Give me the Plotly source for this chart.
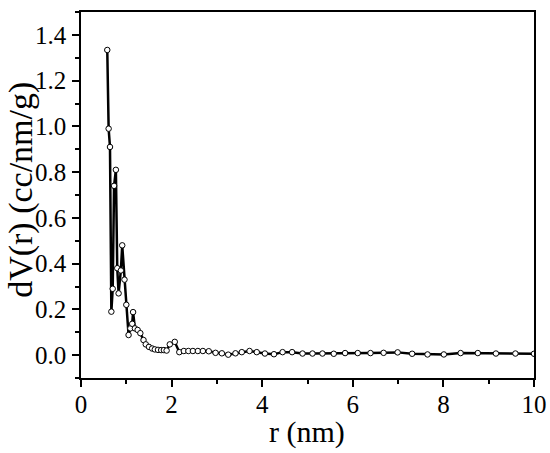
import plotly.graph_objects as go

# pore radius (nm) and dV(r) (cc/nm/g)
r_nm = [0.58, 0.61, 0.64, 0.67, 0.70, 0.73, 0.77, 0.80, 0.83, 0.88,
        0.91, 0.96, 1.00, 1.05, 1.09, 1.13, 1.15, 1.19, 1.25, 1.31,
        1.38, 1.43, 1.50, 1.57, 1.63, 1.70, 1.77, 1.83, 1.89, 1.96,
        2.07, 2.17, 2.27, 2.37, 2.47, 2.58, 2.69, 2.82, 2.97, 3.11,
        3.25, 3.41, 3.55, 3.72, 3.88, 4.06, 4.26, 4.45, 4.66, 4.89,
        5.11, 5.33, 5.58, 5.83, 6.11, 6.39, 6.68, 6.99, 7.31, 7.65,
        8.01, 8.38, 8.76, 9.16, 9.59, 10.0]
dv = [1.334, 0.99, 0.91, 0.19, 0.29, 0.74, 0.81, 0.38, 0.27, 0.37,
      0.48, 0.33, 0.22, 0.088, 0.117, 0.137, 0.188, 0.117, 0.11, 0.096,
      0.066, 0.047, 0.036, 0.029, 0.025, 0.023, 0.022, 0.022, 0.020, 0.047,
      0.058, 0.013, 0.018, 0.018, 0.018, 0.018, 0.018, 0.017, 0.010, 0.008,
      0.002, 0.008, 0.013, 0.018, 0.013, 0.007, 0.004, 0.013, 0.013, 0.007,
      0.007, 0.007, 0.006, 0.009, 0.009, 0.009, 0.010, 0.012, 0.006, 0.003,
      0.003, 0.009, 0.009, 0.007, 0.007, 0.006]

x_ticks = [0, 2, 4, 6, 8, 10]
y_ticks = [0.0, 0.2, 0.4, 0.6, 0.8, 1.0, 1.2, 1.4]

fig = go.Figure()
fig.add_trace(go.Scatter(
    x=r_nm, y=dv, mode="lines+markers",
    line=dict(color="black", width=2.5),
    marker=dict(symbol="circle", size=5.5, color="white",
                line=dict(color="black", width=1)),
    showlegend=False,
))

font = "Liberation Serif, Times New Roman, serif"
axis_common = dict(
    showline=True, linecolor="black", linewidth=1.5, mirror=True,
    ticks="outside", ticklen=7, tickwidth=1.5, tickcolor="black",
    showgrid=False, zeroline=False, automargin=False,
    tickfont=dict(family=font, size=25, color="black"),
)

fig.update_layout(
    width=550, height=453,
    margin=dict(l=81, r=16, t=12, b=75),
    plot_bgcolor="white", paper_bgcolor="white",
    font=dict(family=font, color="black"),
    xaxis=dict(range=[0, 10], tickvals=x_ticks, ticktext=[str(v) for v in x_ticks],
               minor=dict(dtick=1, ticks="outside", ticklen=4, tickcolor="black"),
               ticklabelstandoff=-4,
               **axis_common),
    yaxis=dict(range=[-0.1, 1.5], tickvals=y_ticks, ticktext=[f"{v:.1f}" for v in y_ticks],
               minor=dict(tick0=0, dtick=0.1, ticks="outside", ticklen=4, tickcolor="black"),
               ticklabelstandoff=1,
               **axis_common),
    annotations=[
        dict(text="r (nm)", xref="paper", yref="paper", x=0.499, y=-0.1475,
             xanchor="center", yanchor="middle", showarrow=False,
             font=dict(family=font, size=30)),
        dict(text="dV(r) (cc/nm/g)", xref="paper", yref="paper", x=-0.1325, y=0.514,
             xanchor="center", yanchor="middle", textangle=-90, showarrow=False,
             font=dict(family=font, size=34)),
    ],
)

# drop the default 8px body margin so the figure fills the window
fig.write_html("out.html", config={"displayModeBar": False},
               post_script="document.body.style.margin='0';")
